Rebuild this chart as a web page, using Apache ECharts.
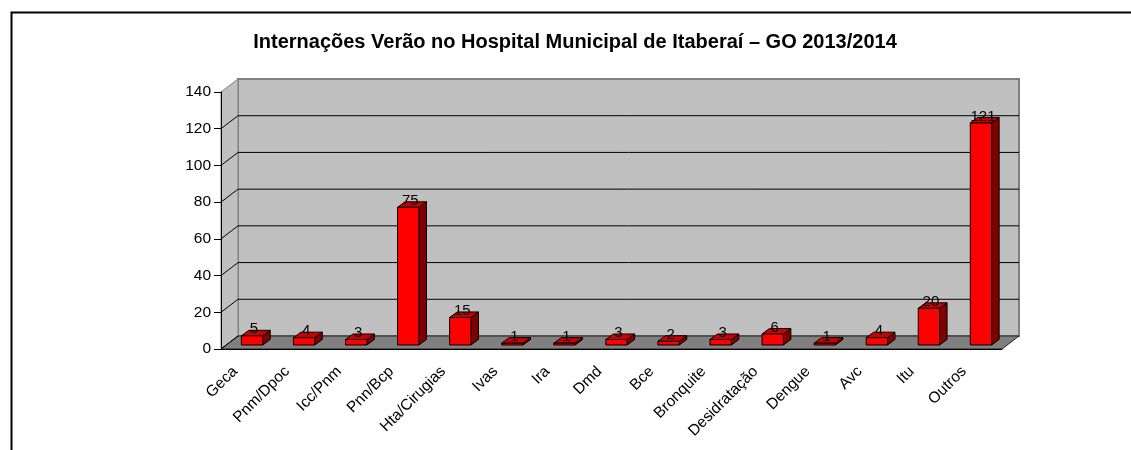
<!DOCTYPE html>
<html>
<head>
<meta charset="utf-8">
<script src="https://cdn.jsdelivr.net/npm/echarts@6/dist/echarts.min.js"></script>
<style>
  html, body { margin: 0; padding: 0; background: #fff; }
  #main { width: 1131px; height: 450px; }
</style>
</head>
<body>
<div id="main"></div>
<script>
// dados do gráfico
const categorias = ['Geca', 'Pnm/Dpoc', 'Icc/Pnm', 'Pnn/Bcp', 'Hta/Cirugias', 'Ivas', 'Ira', 'Dmd', 'Bce',
  'Bronquite', 'Desidratação', 'Dengue', 'Avc', 'Itu', 'Outros'];
const internacoes = [5, 4, 3, 75, 15, 1, 1, 3, 2, 3, 6, 1, 4, 20, 121];
const yTicks = [0, 20, 40, 60, 80, 100, 120, 140];

const FONT = 'Arial, "Liberation Sans", sans-serif';
// deslocamento de profundidade (parede do fundo) e das barras
const DX = 17, DY = -13;
const BX = 5, BY = -4;
const SX = 7.5, SY = -5.5;

// paredes e chão em "3D"
function renderWalls(params, api) {
  const cs = params.coordSys;
  const x = cs.x, y = cs.y, w = cs.width, h = cs.height;
  const children = [];
  // parede do fundo
  children.push({
    type: 'rect',
    shape: {x: x + DX, y: y + DY, width: w, height: h},
    style: {fill: '#c0c0c0', stroke: '#808080', lineWidth: 2}
  });
  // parede lateral
  children.push({
    type: 'polygon',
    shape: {points: [[x, y + h], [x, y], [x + DX, y + DY], [x + DX, y + h + DY]]},
    style: {fill: '#c0c0c0', stroke: '#808080', lineWidth: 1}
  });
  // chão
  children.push({
    type: 'polygon',
    shape: {points: [[x, y + h], [x + w, y + h], [x + w + DX, y + h + DY], [x + DX, y + h + DY]]},
    style: {fill: '#808080', stroke: '#202020', lineWidth: 1}
  });
  // linhas de grade
  for (let i = 0; i < yTicks.length; i++) {
    const py = api.coord([0, yTicks[i]])[1];
    if (yTicks[i] > 0 && yTicks[i] < 140) {
      children.push({
        type: 'line',
        shape: {x1: x + DX, y1: py + DY, x2: x + w + DX, y2: py + DY},
        style: {stroke: '#000', lineWidth: 1}
      });
    }
    if (yTicks[i] < 140) {
      children.push({
        type: 'line',
        shape: {x1: x, y1: py, x2: x + DX, y2: py + DY},
        style: {stroke: '#000', lineWidth: 1}
      });
    }
  }
  return {type: 'group', children: children};
}

// barras em "3D"
function renderBar(params, api) {
  const idx = api.value(0);
  const val = api.value(1);
  const base = api.coord([idx, 0]);
  const top = api.coord([idx, val]);
  const bw = api.size([1, 0])[0] * 0.41;
  const L = base[0] + BX - bw / 2;
  const R = L + bw;
  const B = base[1] + BY;
  const T = top[1] + BY;
  const line = {stroke: '#000', lineWidth: 1};
  return {
    type: 'group',
    children: [
      {type: 'polygon', shape: {points: [[R, T], [R + SX, T + SY], [R + SX, B + SY], [R, B]]},
        style: Object.assign({fill: '#800000'}, line)},
      {type: 'polygon', shape: {points: [[L, T], [R, T], [R + SX, T + SY], [L + SX, T + SY]]},
        style: Object.assign({fill: '#cc0000'}, line)},
      {type: 'rect', shape: {x: L, y: T, width: bw, height: B - T},
        style: Object.assign({fill: '#ff0000'}, line)},
      {type: 'text', x: L + bw / 2 + 2, y: T + 1,
        style: {text: String(val), fill: '#000', font: '15px ' + FONT, align: 'center', verticalAlign: 'bottom'}}
    ]
  };
}

const chart = echarts.init(document.getElementById('main'));
chart.setOption({
  backgroundColor: '#fff',
  animation: false,
  title: {
    text: 'Internações Verão no Hospital Municipal de Itaberaí – GO 2013/2014',
    left: 570, top: 27, textAlign: 'center',
    textStyle: {fontFamily: FONT, fontSize: 20, fontWeight: 'bold', color: '#000'}
  },
  graphic: [{
    type: 'rect', left: 9, top: 10,
    shape: {width: 1200, height: 500},
    style: {fill: 'none', stroke: '#000', lineWidth: 2}
  }],
  grid: {left: 221, top: 92, width: 781, height: 257},
  xAxis: {
    type: 'category',
    data: categorias,
    axisLine: {lineStyle: {color: '#000', width: 1}},
    axisTick: {length: 5, lineStyle: {color: '#000'}},
    axisLabel: {rotate: 45, margin: 8, padding: [0, 17, 0, 0], color: '#000', fontSize: 15.5, fontFamily: FONT, interval: 0},
    splitLine: {show: false}
  },
  yAxis: {
    type: 'value',
    min: 0, max: 140, interval: 20,
    axisLine: {show: true, lineStyle: {color: '#000', width: 1}},
    axisTick: {show: true, length: 7, lineStyle: {color: '#000'}},
    axisLabel: {margin: 10, color: '#000', fontSize: 15.5, fontFamily: FONT},
    splitLine: {show: false}
  },
  series: [
    {
      type: 'custom',
      z: -1,
      data: [[0, 0]],
      renderItem: renderWalls,
      silent: true
    },
    {
      type: 'custom',
      z: 3,
      data: internacoes.map((v, i) => [i, v]),
      encode: {x: 0, y: 1},
      renderItem: renderBar
    }
  ]
});
</script>
</body>
</html>
